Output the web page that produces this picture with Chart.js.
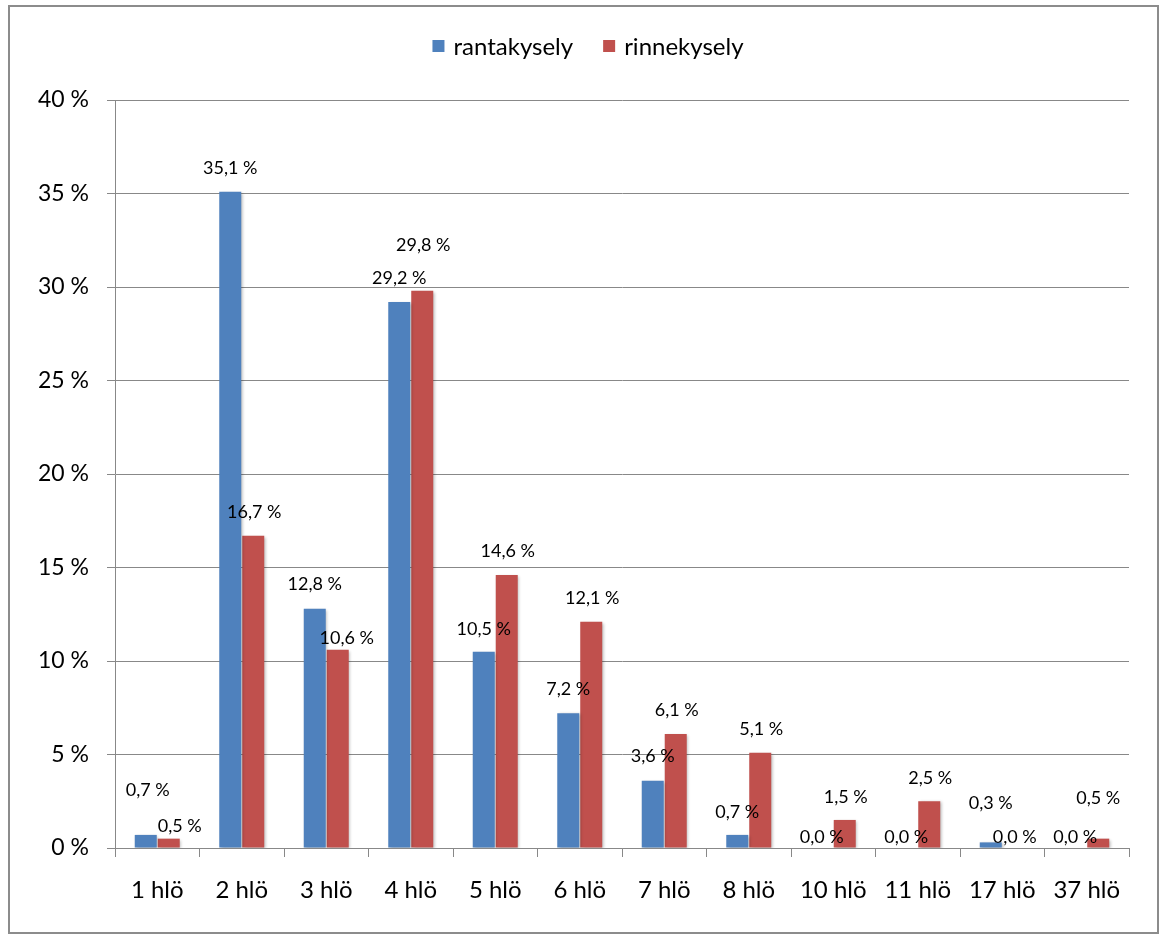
<!DOCTYPE html>
<html>
<head>
<meta charset="utf-8">
<script src="https://cdn.jsdelivr.net/npm/chart.js@4.4.0/dist/chart.umd.min.js"></script>
<style>
  html, body { margin: 0; padding: 0; background: #fff; }
  #wrap { width: 1162px; height: 935px; }
</style>
</head>
<body>
<div id="wrap"><canvas id="chart" width="1162" height="935"></canvas></div>
<script>
const categories = ["1 hlö", "2 hlö", "3 hlö", "4 hlö", "5 hlö", "6 hlö", "7 hlö", "8 hlö", "10 hlö", "11 hlö", "17 hlö", "37 hlö"];
const seriesNames = ["rantakysely", "rinnekysely"];
const rantakysely = [0.7, 35.1, 12.8, 29.2, 10.5, 7.2, 3.6, 0.7, 0.0, 0.0, 0.3, 0.0];
const rinnekysely = [0.5, 16.7, 10.6, 29.8, 14.6, 12.1, 6.1, 5.1, 1.5, 2.5, 0.0, 0.5];
const yMin = 0;
const yMax = 40;
const yStep = 5;

// label nudges (px) relative to the top centre of each bar
const labelShiftX = [
  [2, 0, 0, 0, 0, 0, 0, 0, 0, 0, 0, 0],
  [11, 1, 9, 1, 1, 1, 1, 1, 1, 1, 1, 0],
];
const labelShiftY = [
  [-45.5, -24.5, -25, -24.5, -23, -25, -25, -23.5, -11.5, -11.5, -40, -11.5],
  [-13.5, -24, -12.5, -46.5, -24.5, -24.5, -24, -24.5, -23.5, -23.5, -11.5, -40.7],
];

const colors = ["#4F81BD", "#C0504D"];
const gridColor = "#888888";
const fontFamily = "Lato, 'Open Sans', sans-serif";

const fmtPct = (v) => v.toFixed(1).replace(".", ",") + " %";

// outer frame + legend
const framePlugin = {
  id: "frame",
  beforeDraw(chart) {
    const ctx = chart.ctx;
    ctx.save();
    ctx.fillStyle = "#fff";
    ctx.fillRect(0, 0, chart.width, chart.height);
    ctx.strokeStyle = "#8c8c8c";
    ctx.lineWidth = 2;
    ctx.strokeRect(9, 6, 1149, 927);
    ctx.restore();
  },
  afterDraw(chart) {
    const ctx = chart.ctx;
    ctx.save();
    ctx.font = "24px " + fontFamily;
    const box = 12, gap = 9, itemGap = 30;
    const widths = seriesNames.map((n) => ctx.measureText(n).width);
    const total = widths.reduce((a, w) => a + box + gap + w, 0) + itemGap * (seriesNames.length - 1);
    let x = 588 - total / 2;
    seriesNames.forEach((name, i) => {
      ctx.fillStyle = colors[i];
      ctx.fillRect(x, 40, box, box);
      ctx.fillStyle = "#000";
      ctx.textBaseline = "alphabetic";
      ctx.fillText(name, x + box + gap, 54.5);
      x += box + gap + widths[i] + itemGap;
    });
    ctx.restore();
  },
};

// soft bar shadow and value labels
const barLabelPlugin = {
  id: "barLabels",
  beforeDatasetsDraw(chart) {
    const ctx = chart.ctx;
    ctx.save();
    ctx.shadowColor = "rgba(0,0,0,0.28)";
    ctx.shadowBlur = 3;
    ctx.shadowOffsetX = 1.5;
    ctx.shadowOffsetY = 1;
  },
  afterDatasetsDraw(chart) {
    const ctx = chart.ctx;
    ctx.restore();
    ctx.save();
    ctx.font = "18px " + fontFamily;
    ctx.fillStyle = "#000";
    ctx.textAlign = "center";
    ctx.textBaseline = "alphabetic";
    chart.data.datasets.forEach((ds, di) => {
      const meta = chart.getDatasetMeta(di);
      meta.data.forEach((bar, i) => {
        const cx = bar.x + labelShiftX[di][i];
        const cy = bar.y + labelShiftY[di][i];
        ctx.fillText(fmtPct(ds.data[i]), cx, cy + 6.5);
      });
    });
    ctx.restore();
  },
};

new Chart(document.getElementById("chart"), {
  type: "bar",
  data: {
    labels: categories,
    datasets: [
      {
        label: seriesNames[0],
        data: rantakysely,
        backgroundColor: colors[0],
        borderWidth: 0,
        categoryPercentage: 0.544,
        barPercentage: 0.957,
      },
      {
        label: seriesNames[1],
        data: rinnekysely,
        backgroundColor: colors[1],
        borderWidth: 0,
        categoryPercentage: 0.544,
        barPercentage: 0.957,
      },
    ],
  },
  options: {
    responsive: false,
    animation: false,
    layout: { padding: { top: 100, right: 33, bottom: 0, left: 0 } },
    plugins: {
      legend: { display: false },
      tooltip: { enabled: false },
    },
    scales: {
      x: {
        grid: {
          display: true,
          drawOnChartArea: false,
          drawTicks: true,
          tickLength: 9,
          color: gridColor,
          offset: true,
        },
        border: { display: true, color: gridColor },
        ticks: {
          color: "#000",
          font: { family: fontFamily, size: 24 },
          padding: 19,
          maxRotation: 0,
          autoSkip: false,
        },
        afterFit: (scale) => { scale.height = 87; },
      },
      y: {
        min: yMin,
        max: yMax,
        grid: { color: gridColor, tickLength: 8, drawTicks: true },
        border: { display: true, color: gridColor },
        ticks: {
          stepSize: yStep,
          color: "#000",
          font: { family: fontFamily, size: 23 },
          padding: 18,
          callback: (v) => v + " %",
        },
        afterFit: (scale) => { scale.width = 115; },
      },
    },
  },
  plugins: [framePlugin, barLabelPlugin],
});
</script>
</body>
</html>
